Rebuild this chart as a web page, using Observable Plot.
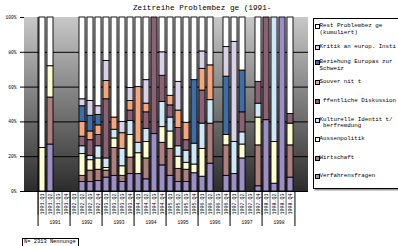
<!DOCTYPE html>
<html><head><meta charset="utf-8">
<script src="https://cdn.jsdelivr.net/npm/d3@7"></script>
<script src="https://cdn.jsdelivr.net/npm/@observablehq/plot@0.6"></script>
<style>
body{margin:0;background:#fff;}
#wrap{position:relative;width:398px;height:246px;overflow:hidden;font-family:"Liberation Mono",monospace;color:#000;}
#bg{position:absolute;left:24px;top:17px;width:284px;height:174px;background:linear-gradient(to bottom,#c8c8c8,#2c2c2c);}
#chart{position:absolute;left:0;top:0;}
#title{position:absolute;left:133px;top:4.3px;font-size:7.7px;line-height:8px;white-space:pre;}
#legend{position:absolute;left:313px;top:18px;width:100px;height:169px;border:1px solid #000;box-shadow:1.5px 1.5px 0 #999;background:#fff;}
.li{position:absolute;left:0;padding-left:5.5px;font-size:5.8px;line-height:6.5px;white-space:pre;}
.sw{position:absolute;left:0.5px;top:0.9px;width:3px;height:3px;border:1px solid #000;}
#cap{position:absolute;left:22px;top:238px;width:54px;height:12px;border:1px solid #000;font-size:5.4px;line-height:6.5px;padding-left:1px;white-space:nowrap;}
</style></head>
<body>
<div id="wrap">
  <div id="bg"></div>
  <div id="chart"></div>
  <div id="title"></div>
  <div id="legend"></div>
  <div id="cap"></div>
</div>
<script>
const titleText = "Zeitreihe Problembez ge (1991-";
const captionText = "N= 2313 Nennunge";
const years = ["1991","1992","1993","1994","1995","1996","1997","1998"];
const quarters = years.flatMap(y => ["Q1","Q2","Q3","Q4"].map(q => y + "." + q));

// stacking order bottom -> top
const categories = ["Verfahrensfragen","Wirtschaft","Aussenpolitik","Kulturelle Identit t/ berfremdung"," ffentliche Diskussion","Souver nit t","Beziehung Europas zur Schweiz","Kritik an europ. Insti","Rest Problembez ge (kumuliert)"];
const colors = ["#9d8ec6","#ae807d","#ffffd2","#cfe8f7","#8b6173","#f6a57c","#3f6ea7","#d9d1e8","#ffffff"];

// values in % per quarter (null = no data)
const verfahrensfragen = [0,27,null,null,null,5.5,5.5,6, 8,9,5.5,10, 10,7,33,15, 9,5.5,5.5,10.5, 8.5,16,null,9, 10,19,null,3, 41,4.5,100,8];
const wirtschaft       = [0,27,null,null,null,3.5,6.5,6.5, 4,16,3.5,9.5, 0,12,0,13, 15.5,7.5,7,0, 0,23,null,17.5, 0,0,null,23.5, 0,0,0,18.5];
const aussenpolitik    = [25,18,null,null,null,12.5,6,6.5, 1.5,5.5,5.5,13, 12,9.5,0,9, 10,7,4,5, 16,0,null,6, 0,8,null,16, 0,24,0,12.5];
const kulturelle       = [0,0,null,null,null,4.5,2.5,7, 5.5,5,10,8, 6,7.5,0,14.5, 8,6,7,12, 14.5,13.5,null,0, 18.5,7,null,8, 0,71.5,0,0];
const oeffentliche     = [0,0,null,null,null,5.5,9,6.5, 34,0,0,6, 0,9.5,67,15, 7,10.5,6,0, 19,0,null,0, 0,11.5,null,12.5, 59,0,0,5.5];
const souveraenitaet   = [0,0,null,null,null,8.5,5,5.5, 10.5,7,9,5.5, 32,5,0,0, 5.5,10,10,0, 12.5,20,null,0, 0,0,null,0, 0,0,0,0];
const beziehung        = [0,0,null,null,null,9,9,6, 0,0,0,0, 0,0,0,0, 0,0,0,36.5, 0,0,null,33.5, 0,24,null,0, 0,0,0,0];
const kritik           = [0,0,null,null,null,4,8.5,5, 11.5,0,6.5,7.5, 0,13.5,0,13.5, 0,16.5,0,0, 10,0,null,17, 57.5,0,null,0, 0,0,0,0];
const rest             = [75,28,null,null,null,47,48,51, 25,57.5,60,40.5, 40,36,0,20, 45,37,60.5,36, 19.5,27.5,null,17, 14,30.5,null,37, 0,0,0,55.5];
const series = [verfahrensfragen, wirtschaft, aussenpolitik, kulturelle, oeffentliche, souveraenitaet, beziehung, kritik, rest];

const legendLabels = ["Rest Problembez ge\n(kumuliert)","Kritik an europ. Insti","Beziehung Europas zur\nSchweiz","Souver nit t"," ffentliche Diskussion","Kulturelle Identit t/\n berfremdung","Aussenpolitik","Wirtschaft","Verfahrensfragen"];
const legendCats = [8,7,6,5,4,3,2,1,0];
const legendTops = [4.45,25.45,40.45,60.45,78.75,97.75,116.75,135.75,154.45];

const rows = [];
series.forEach((arr, c) => arr.forEach((v, i) => { if (v) rows.push({q: quarters[i], cat: categories[c], v}); }));

const bw = 284 / 32;
const yearStarts = quarters.filter((q, i) => i % 4 === 0);
const yearMids = quarters.filter((q, i) => i % 4 === 1);

const chart = Plot.plot({
  width: 398, height: 246,
  marginLeft: 24, marginRight: 90, marginTop: 17, marginBottom: 55,
  style: {fontFamily: "Liberation Mono, monospace", fontSize: "4.6px", background: "transparent", color: "#000", overflow: "visible"},
  x: {type: "band", domain: quarters, padding: 0, axis: null},
  y: {domain: [0, 100], ticks: [0,20,40,60,80,100], tickFormat: d => d + "%", tickSize: 4, tickPadding: 4, label: null},
  color: {domain: categories, range: colors},
  marks: [
    Plot.ruleY([20,40,60,80], {stroke: "#000", strokeWidth: 1}),
    Plot.barY(rows, Plot.stackY({x: "q", y: "v", fill: "cat", order: categories, stroke: "#000", strokeWidth: 0.9, insetLeft: 1, insetRight: 1})),
    Plot.ruleY([0], {stroke: "#000", strokeWidth: 1}),
    Plot.ruleX([quarters[0]], {dx: -bw/2, stroke: "#000", strokeWidth: 1}),
    Plot.ruleX(quarters, {dx: -bw/2, insetTop: 174, insetBottom: -24, stroke: "#000", strokeWidth: 0.6}),
    Plot.ruleX(yearStarts, {dx: -bw/2, insetTop: 174, insetBottom: -35, stroke: "#000", strokeWidth: 1}),
    Plot.ruleX([quarters[31]], {dx: bw/2, insetTop: 174, insetBottom: -35, stroke: "#000", strokeWidth: 1}),
    Plot.text(quarters, {x: d => d, y: 0, text: d => d, rotate: -90, textAnchor: "end", dy: 2, fontSize: 5}),
    Plot.text(yearMids, {x: d => d, y: 0, text: (d, i) => years[i], dx: bw/2, dy: 31, fontSize: 4.6})
  ]
});
document.getElementById("chart").appendChild(chart);

document.getElementById("title").textContent = titleText;
document.getElementById("cap").textContent = captionText;
const leg = document.getElementById("legend");
legendLabels.forEach((lab, k) => {
  const d = document.createElement("div");
  d.className = "li";
  d.style.top = legendTops[k] + "px";
  const s = document.createElement("span");
  s.className = "sw";
  s.style.background = colors[legendCats[k]];
  d.appendChild(s);
  d.appendChild(document.createTextNode(lab));
  leg.appendChild(d);
});
</script>
</body></html>
